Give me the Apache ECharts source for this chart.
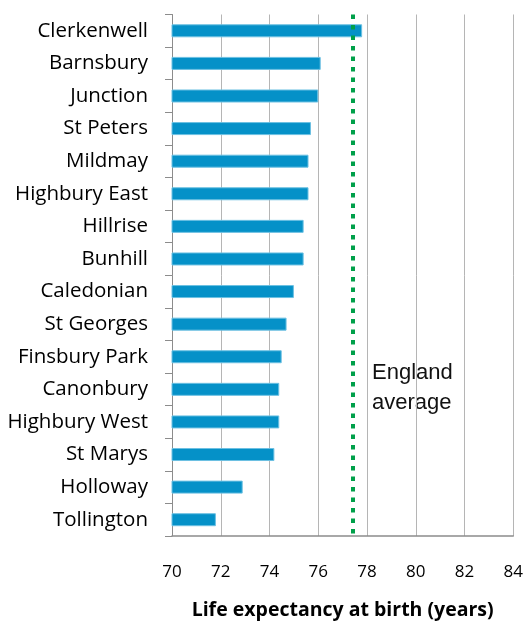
<!DOCTYPE html>
<html>
<head>
<meta charset="utf-8">
<script src="https://cdn.jsdelivr.net/npm/echarts@6/dist/echarts.min.js"></script>
<style>html,body{margin:0;padding:0;background:#fff;}#c{width:526px;height:625px;}</style>
</head>
<body>
<div id="c"></div>
<script>
const wards = ['Clerkenwell','Barnsbury','Junction','St Peters','Mildmay','Highbury East','Hillrise','Bunhill','Caledonian','St Georges','Finsbury Park','Canonbury','Highbury West','St Marys','Holloway','Tollington'];
const lifeExpectancy = [77.8,76.1,76.0,75.7,75.6,75.6,75.4,75.4,75.0,74.7,74.5,74.4,74.4,74.2,72.9,71.8];
const englandAverage = 77.4;
const xMin = 70, xMax = 84, xStep = 2;
const xTitle = 'Life expectancy at birth (years)';
const avgLabel = 'England\naverage';

const chart = echarts.init(document.getElementById('c'));
chart.setOption({
  animation: false,
  backgroundColor: '#fff',
  grid: {left: 172, right: 12, top: 14.5, bottom: 82, containLabel: false},
  xAxis: {
    type: 'value', min: xMin, max: xMax, interval: xStep,
    name: xTitle, nameLocation: 'middle', nameGap: 64,
    nameTextStyle: {fontFamily: 'Open Sans', fontWeight: 'bold', fontSize: 19.5, color: '#000'},
    axisLine: {show: true, lineStyle: {color: '#8c8c8c', width: 1.5}},
    axisTick: {show: false},
    axisLabel: {fontFamily: 'Open Sans', fontSize: 17, color: '#000', margin: 28},
    splitLine: {show: true, lineStyle: {color: '#b5b5b5', width: 1}}
  },
  yAxis: {
    type: 'category', data: wards, inverse: true,
    axisLine: {show: true, lineStyle: {color: '#8c8c8c', width: 1}},
    axisTick: {show: true, length: 7, lineStyle: {color: '#8c8c8c'}},
    axisLabel: {fontFamily: 'Open Sans', fontSize: 20.5, color: '#000', margin: 24}
  },
  series: [{
    type: 'bar', data: lifeExpectancy, barWidth: 13,
    itemStyle: {color: '#0591C8', borderColor: '#6cc0e2', borderWidth: 1},
    markLine: {
      silent: true, symbol: 'none',
      label: {show: false},
      lineStyle: {color: '#00A04A', width: 4, type: [4.5, 6], cap: 'butt'},
      data: [{xAxis: englandAverage}]
    }
  }],
  graphic: [{
    type: 'text', left: 372, top: 358,
    style: {text: avgLabel, font: '22px "Liberation Sans"', fill: '#111', lineHeight: 30}
  }]
});
</script>
</body>
</html>
